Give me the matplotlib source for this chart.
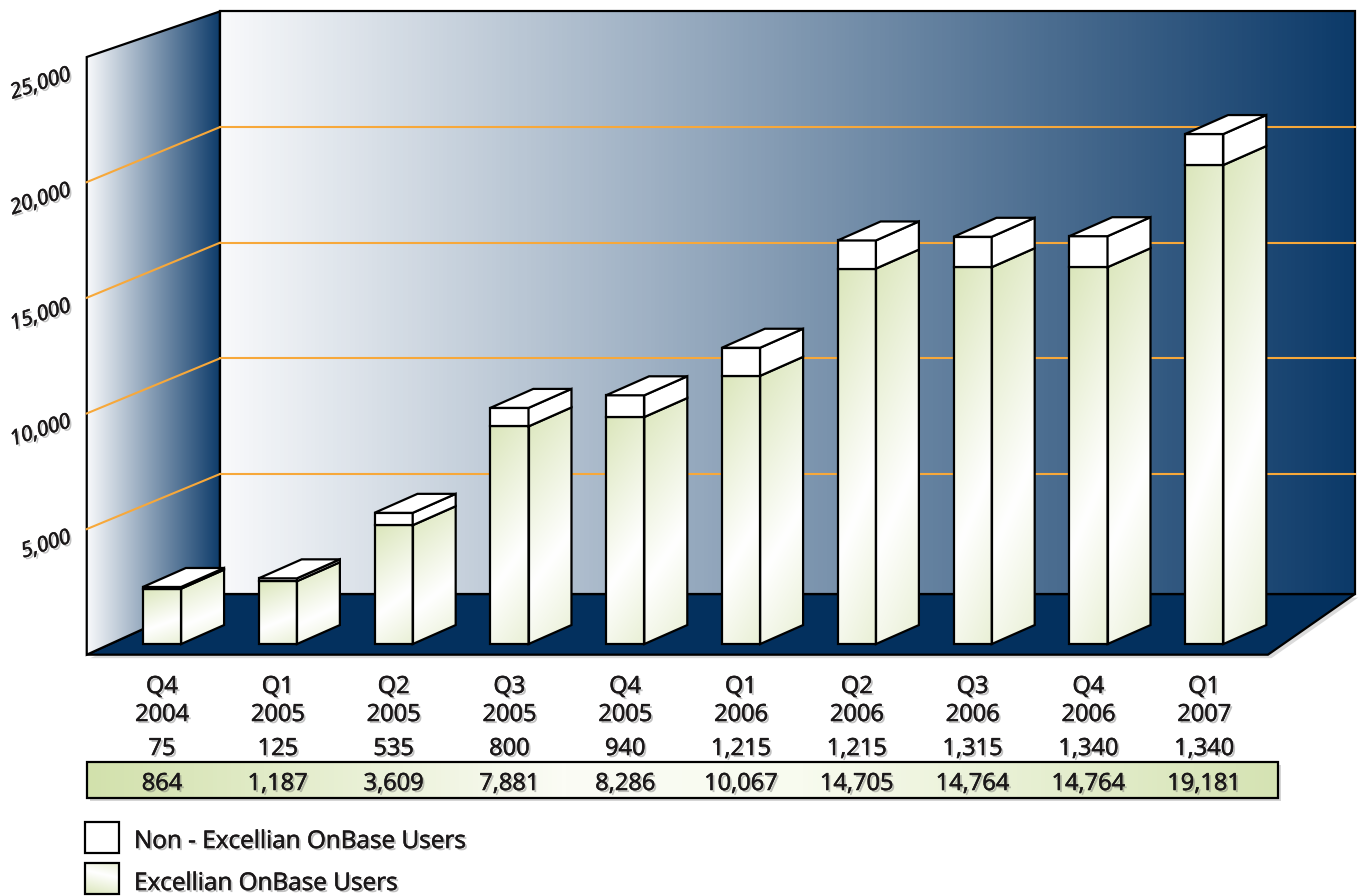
import numpy as np
import matplotlib.pyplot as plt
import matplotlib.patheffects as pe
import matplotlib.transforms as mtransforms
from matplotlib.colors import LinearSegmentedColormap
from matplotlib.patches import Polygon, Rectangle

plt.rcParams['font.family'] = ['Open Sans', 'DejaVu Sans']

quarters = ['Q4', 'Q1', 'Q2', 'Q3', 'Q4', 'Q1', 'Q2', 'Q3', 'Q4', 'Q1']
years = ['2004', '2005', '2005', '2005', '2005', '2006', '2006', '2006', '2006', '2007']
non_excellian = [75, 125, 535, 800, 940, 1215, 1215, 1315, 1340, 1340]
excellian = [864, 1187, 3609, 7881, 8286, 10067, 14705, 14764, 14764, 19181]
y_ticks = [5000, 10000, 15000, 20000, 25000]
legend_labels = ['Non - Excellian OnBase Users', 'Excellian OnBase Users']

# fake 3d geometry, x in category units, y in users
bar_w = 0.33
dep_x, dep_y = 0.371, 821      # depth of a bar (back face is up/right)
bar_base = -2350               # bars stand on the floor, in front
wall_l, wall_r = 0.50, 10.30
wall_bot, wall_top = -190, 25000
front_l, front_r, front_y = -0.65, 9.55, -2810
side_top = 23030
side_drop = 2380

navy = '#0c3a69'
ink = '#1a1718'
fade = LinearSegmentedColormap.from_list('fade', ['#f8f9fb', navy])
green = LinearSegmentedColormap.from_list('green', ['#dbe6bb', '#ffffff'])
band = LinearSegmentedColormap.from_list(
    'band', [(0, '#d2e1ac'), (0.4, '#fbfcf5'), (0.6, '#f8fbef'), (1, '#d5e3b3')])
shadow = [pe.SimplePatchShadow(offset=(1.5, -1.5), shadow_rgbFace='#666666', alpha=0.4),
          pe.withStroke(linewidth=0.4, foreground=ink)]

fig = plt.figure(figsize=(13.63, 8.96), dpi=100)
ax = fig.add_axes([0, 0, 1, 1])
ax.set_xlim(-1.399, 10.371)
ax.set_ylim(-13243, 25495)
ax.axis('off')
lay = fig.add_axes([0, 0, 1, 1], zorder=5)
lay.set_xlim(0, 1363)
lay.set_ylim(896, 0)
lay.axis('off')

u, v = np.meshgrid(np.linspace(0, 1, 60), np.linspace(0, 1, 60))
d = 0.8 * (1 - v) + 0.2 * u
shine = np.clip(1 - np.abs(d - 0.62) / 0.62, 0, 1)
horiz = np.linspace(0, 1, 256)[None, :]


def grad_fill(pts, img, cmap, z, lw=1.6):
    pts = np.array(pts, dtype=float)
    poly = Polygon(pts, closed=True, fc='none', ec='black', lw=lw, zorder=z + 0.1,
                   joinstyle='miter')
    ax.add_patch(poly)
    x0, y0 = pts.min(axis=0)
    x1, y1 = pts.max(axis=0)
    im = ax.imshow(img, cmap=cmap, vmin=0, vmax=1, extent=(x0, x1, y0, y1), origin='lower',
                   aspect='auto', interpolation='bilinear', zorder=z)
    im.set_clip_path(poly)


def plain(pts, z, fc='white'):
    ax.add_patch(Polygon(pts, closed=True, fc=fc, ec='black', lw=1.6, zorder=z,
                         joinstyle='miter'))


# backdrop
floor = [(front_l, front_y), (wall_l, wall_bot), (wall_r, wall_bot), (front_r, front_y)]
ax.add_patch(Polygon([(x + 0.03, y - 150) for x, y in floor], fc='#999999', alpha=0.35,
                     ec='none', zorder=0.5))
plain(floor, 1, fc='#03305e')
grad_fill([(wall_l, wall_bot), (wall_r, wall_bot), (wall_r, wall_top), (wall_l, wall_top)],
          horiz, fade, 1)
grad_fill([(front_l, front_y), (front_l, side_top), (wall_l, wall_top), (wall_l, wall_bot)],
          horiz, fade, 1)

for g in y_ticks[:-1]:
    ax.plot([wall_l, wall_r], [g, g], color='#f7a83a', lw=1.5, zorder=2)
    ax.plot([front_l, wall_l], [g - side_drop, g], color='#f7a83a', lw=1.5, zorder=2)
for g in y_ticks:
    ax.text(-0.777, g - 2940, f'{g:,}', rotation=18, rotation_mode='anchor', ha='right',
            va='baseline', style='italic', fontsize=15, color=ink, path_effects=shadow)

# bars
for i, (e, n) in enumerate(zip(excellian, non_excellian)):
    xl, xr = i - bar_w / 2, i + bar_w / 2
    mid = e - dep_y
    top = e + n - dep_y
    grad_fill([(xl, bar_base), (xr, bar_base), (xr, mid), (xl, mid)], shine, green, 5)
    grad_fill([(xr, bar_base), (xr + dep_x, bar_base + dep_y), (xr + dep_x, mid + dep_y),
               (xr, mid)], shine, green, 5)
    plain([(xl, mid), (xr, mid), (xr, top), (xl, top)], 5.2)
    plain([(xr, mid), (xr + dep_x, mid + dep_y), (xr + dep_x, top + dep_y), (xr, top)], 5.2)
    plain([(xl, top), (xr, top), (xr + dep_x, top + dep_y), (xl + dep_x, top + dep_y)], 5.2)

# table under the chart
tr = mtransforms.blended_transform_factory(ax.transData, lay.transData)
lay.add_patch(Rectangle((90, 765), 1191, 36, fc='#888888', alpha=0.35, ec='none', zorder=1))
lay.imshow(horiz, cmap=band, vmin=0, vmax=1, extent=(87, 1278, 798, 762), aspect='auto',
           zorder=2)
lay.add_patch(Rectangle((87, 762), 1191, 36, fc='none', ec='black', lw=1.6, zorder=3))

rows = [(693, quarters), (721, years),
        (755, [f'{n:,}' for n in non_excellian]),
        (790, [f'{e:,}' for e in excellian])]
for py, labels in rows:
    for i, lab in enumerate(labels):
        lay.text(i, py, lab, transform=tr, ha='center', va='baseline', fontsize=17,
                 color=ink, path_effects=shadow, zorder=10)

# legend
lay.add_patch(Rectangle((85, 822), 34, 31, fc='white', ec='black', lw=1.6, zorder=3))
lay.imshow(shine, cmap=green, vmin=0, vmax=1, extent=(85, 119, 894, 863), aspect='auto',
           zorder=2)
lay.add_patch(Rectangle((85, 863), 34, 31, fc='none', ec='black', lw=1.6, zorder=3))
for py, lab in zip([848, 890], legend_labels):
    lay.text(134, py, lab, ha='left', va='baseline', fontsize=17.5, color=ink,
             path_effects=shadow, zorder=10)
lay.set_xlim(0, 1363)
lay.set_ylim(896, 0)

fig.savefig('out.png', dpi=100)
